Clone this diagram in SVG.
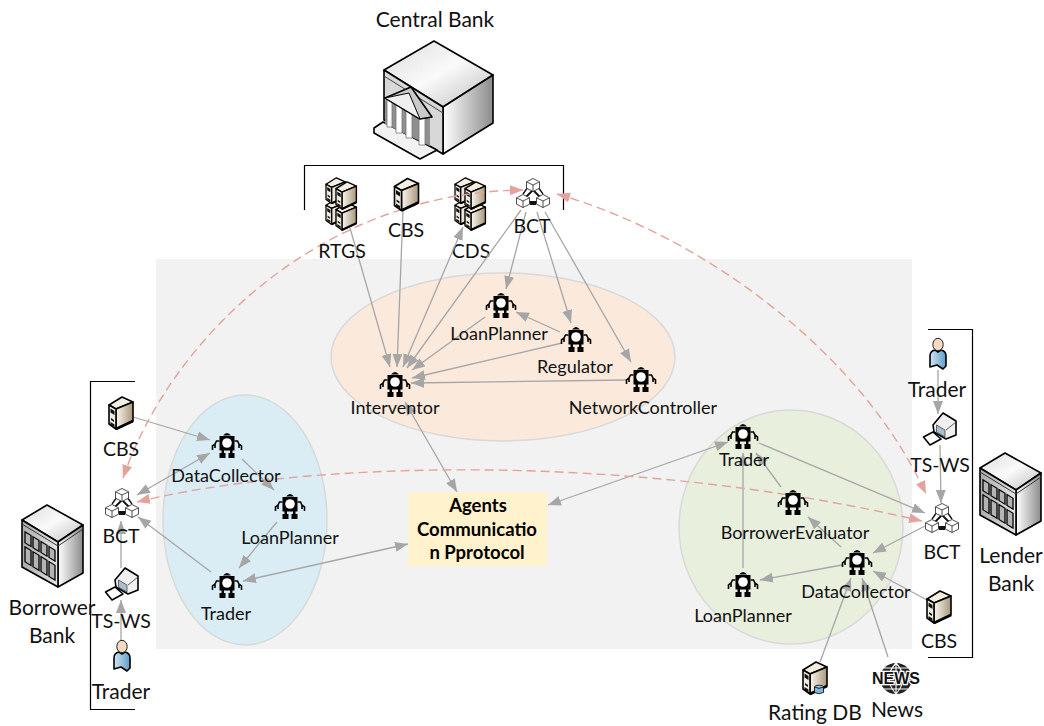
<svg xmlns="http://www.w3.org/2000/svg" width="1044" height="726" viewBox="0 0 1044 726">
<style>
text{font-family:"Lato","Liberation Sans",sans-serif;font-size:18px;fill:#111;text-anchor:middle}
.big{font-size:21px}
.cap{font-size:19.5px}
.bold{font-weight:700;font-size:18.5px;fill:#000}
.news{font-family:"Liberation Sans",Arial,sans-serif;font-weight:700;font-size:16px;fill:#111;stroke:#fff;stroke-width:2.5px;paint-order:stroke}
.c{fill:none;stroke:#a6a6a6;stroke-width:1.3;marker-end:url(#ah)}
.b{marker-start:url(#ah)}
.n{marker-end:none}
.d{fill:none;stroke:#e3a39c;stroke-width:1.4;stroke-dasharray:9 5;marker-start:url(#ap);marker-end:url(#ap)}
.o{stroke:#000;stroke-width:1.6;stroke-linejoin:round}
.t{stroke:#222;stroke-width:.8;fill:#fff;stroke-linejoin:round}
.br{fill:none;stroke:#000;stroke-width:1.2}
</style>
<defs>
<marker id="ah" markerUnits="userSpaceOnUse" markerWidth="14" markerHeight="11" refX="13" refY="5" orient="auto-start-reverse"><path d="M0,0L13,5L0,10Z" fill="#a6a6a6"/></marker>
<marker id="ap" markerUnits="userSpaceOnUse" markerWidth="14" markerHeight="11" refX="13" refY="5" orient="auto-start-reverse"><path d="M0,0L13,5L0,10Z" fill="#e3a39c"/></marker>
<linearGradient id="gb" x1="0" x2="1" y1="0" y2="0"><stop offset="0" stop-color="#fff"/><stop offset="1" stop-color="#8c8c8c"/></linearGradient>
<linearGradient id="gl" x1="0" x2="1" y1="0" y2="0"><stop offset="0" stop-color="#a9a9a9"/><stop offset="1" stop-color="#e6e6e6"/></linearGradient>
<linearGradient id="gt" x1="0" x2="1" y1="0" y2="1"><stop offset="0" stop-color="#dcdcdc"/><stop offset=".5" stop-color="#fafafa"/><stop offset="1" stop-color="#bdbdbd"/></linearGradient>
<linearGradient id="gs" x1="0" x2="1" y1="0" y2="0"><stop offset="0" stop-color="#fbf8f0"/><stop offset="1" stop-color="#a8977a"/></linearGradient>
<linearGradient id="gp" x1="0" x2="1" y1="0" y2="0"><stop offset="0" stop-color="#cfe6f5"/><stop offset="1" stop-color="#5f9cc8"/></linearGradient>
<g id="robot">
<path d="M-4,-9.500Q0,-14.500 4,-9.500Z" fill="#000"/>
<rect x="-7.500" y="-9" width="15" height="14.500" fill="#000"/>
<circle cx="0" cy="-2" r="4.800" fill="#fff"/>
<rect x="-7.500" y="8" width="6" height="5" fill="#000"/><rect x="1.500" y="8" width="6" height="5" fill="#000"/>
<rect x="-5.500" y="5" width="2.500" height="3" fill="#000"/><rect x="3" y="5" width="2.500" height="3" fill="#000"/>
<path d="M-7.500,-4L-10.500,-4L-12,-1L-14.500,1V5M-12,-1V3M7.500,-4L10.500,-4L12,-1L14.500,1V5M12,-1V3" fill="none" stroke="#000" stroke-width="1.600"/>
</g>
<g id="server">
<path class="o" d="M0,9L13,1L24,6L7,13Z" fill="#f4eee0"/>
<path class="o" d="M7,13L24,6V25L7,33Z" fill="url(#gs)"/>
<path class="o" d="M0,9L7,13V33L0,28Z" fill="#f1ece0"/>
<path d="M1.500,12.500L5.500,15V19L1.500,16.500ZM2,22L5,24V26L2,24ZM1.500,26L5.500,28.500V31L1.500,28.500Z" fill="#111"/>
<path d="M7,33L24,25" stroke="#000" stroke-width="2.600"/>
</g>
<g id="rack">
<use href="#server" transform="translate(0,21) scale(.8)"/>
<use href="#server" transform="translate(0,0) scale(.8)"/>
<use href="#server" transform="translate(10,25) scale(.85)"/>
<use href="#server" transform="translate(10,4) scale(.85)"/>
</g>
<g id="cube"><path class="t" d="M0,-6.500L6.500,-3.200V3.200L0,6.500L-6.500,3.200V-3.200Z"/><path class="t" d="M-6.500,-3.200L0,0L6.500,-3.200M0,0V6.500" fill="none"/></g>
<g id="bct">
<path d="M17,12L10,19M17,12L24,19M13,24H21M14,26H20" stroke="#111" stroke-width="1.800" fill="none"/>
<path d="M12,9L7,16M22,9L27,16" stroke="#111" stroke-width="1.300"/>
<use href="#cube" x="17" y="7"/><use href="#cube" x="7" y="23"/><use href="#cube" x="27" y="23"/>
</g>
<g id="person">
<path class="o" d="M1,29V18Q1,13 6,12L9,14L12,12Q17,13 17,18V28L14,31L8,27Z" fill="url(#gp)" stroke-width="1.100"/>
<ellipse cx="9" cy="6.500" rx="5.200" ry="6.200" fill="#f6d9c4" stroke="#222" stroke-width="1"/>
</g>
<g id="ws">
<path class="o" d="M10,12L20,0L33,8V22L23,26L11,19Z" fill="#f0f0f0" stroke-width="1.900"/>
<path d="M13.500,12L22,17V24L13.500,19Z" fill="#a9bfcc" stroke="#333" stroke-width=".7"/>
<path d="M23,17L33,9" stroke="#333" stroke-width=".8"/>
<path class="o" d="M0.500,24L10,19L18,26L7,32Z" fill="#fff" stroke-width="1.900"/>
</g>
<g id="office">
<path class="o" d="M25,0L61,20L36,37L0,15Z" fill="url(#gt)"/>
<path class="o" d="M36,37L61,20V68L36,82Z" fill="url(#gb)"/>
<path class="o" d="M0,15L36,37V82L0,62Z" fill="url(#gl)"/>
<path d="M0,19L36,41M36,41L61,24" stroke="#333" stroke-width="1" fill="none"/>
<g transform="matrix(1,.61,0,1,0,15)" fill="#b4b4b4" stroke="#000" stroke-width="1.300">
<rect x="3" y="10" width="6" height="11"/><rect x="11" y="10" width="6" height="11"/><rect x="19" y="10" width="6" height="11"/><rect x="27" y="10" width="6" height="11"/>
<rect x="3" y="25" width="6" height="15"/><rect x="11" y="25" width="6" height="15"/><rect x="19" y="25" width="6" height="15"/><rect x="27" y="25" width="6" height="15"/>
</g>
</g>
</defs>

<g id="regions">
<rect x="156" y="259" width="756" height="390" fill="#f2f2f2"/>
<ellipse cx="503" cy="357" rx="172" ry="84" fill="#fbe9dc" stroke="#d9d9d9" stroke-width="1.500"/>
<ellipse cx="245" cy="520" rx="82" ry="125" fill="#daedf4" stroke="#d9d9d9" stroke-width="1.500"/>
<ellipse cx="791" cy="527" rx="112" ry="117" fill="#e8efdd" stroke="#d9d9d9" stroke-width="1.500"/>
<path class="br" d="M304.500,210V165.500H563.500V210"/>
<path class="br" d="M135,381.500H90.500V709.500H135"/>
<path class="br" d="M928,329.500H972.500V657.500H928"/>
</g>

<g id="node-central-cds"><use href="#rack" x="455" y="177"/><text x="471" y="258" class="cap">CDS</text></g>

<g id="connectors">
<path class="c" d="M350,228L390,367"/>
<path class="c" d="M403,210L397,367"/>
<path class="c b" d="M463,227L403,367"/>
<path class="c n b" d="M407,368L521,210"/>
<path class="c" d="M526,212L506,289"/>
<path class="c" d="M537,212L571,323"/>
<path class="c" d="M545,212L631,362"/>
<path class="c" d="M560,332L516,312"/>
<path class="c" d="M485,317L412,370"/>
<path class="c" d="M562,343L412,378"/>
<path class="c" d="M627,380L411,383"/>
<path class="c b" d="M405,402L457,492"/>
<path class="c b" d="M548,505L728,442"/>
<path class="c b" d="M408,544L243,581"/>
<path class="c" d="M133,417L210,440"/>
<path class="c b" d="M210,453L137,495"/>
<path class="c" d="M242,459L274,490"/>
<path class="c" d="M277,522L239,568"/>
<path class="c" d="M211,572L138,517"/>
<path class="c" d="M121,568V521"/>
<path class="c" d="M121,640V600"/>
<path class="c" d="M938,370V414"/>
<path class="c" d="M940,445L941,503"/>
<path class="c" d="M759,443L925,513"/>
<path class="c" d="M925,526L873,553"/>
<path class="c" d="M781,487L756,453"/>
<path class="c" d="M841,547L808,517"/>
<path class="c" d="M842,565L760,580"/>
<path class="c" d="M743,568V453"/>
<path class="c" d="M927,600L873,571"/>
<path class="c" d="M820,662L851,578"/>
<path class="c" d="M888,657L862,578"/>
<path class="d" d="M123,478C170,340 320,192 523,190"/>
<path class="d" d="M557,194C700,235 860,350 926,494"/>
<path class="d" d="M137,502C300,462 620,450 922,521"/>
</g>

<g id="node-central-bank">
<text x="435" y="27" class="big">Central Bank</text>
<path class="o" d="M434,41L493,75L443,107L384,70Z" fill="url(#gt)"/>
<path class="o" d="M443,107L493,75V123L443,154Z" fill="url(#gb)"/>
<path class="o" d="M384,70L443,107V154L384,120Z" fill="#d8d8d8"/>
<path d="M384,76L443,113" stroke="#444" stroke-width="1"/>
<path class="o" d="M374,128L383,122L437,150L420,159L374,133Z" fill="#f2f2f2" stroke-width="1.300"/>
<path d="M385,100L430,118V146L385,124Z" fill="#8f8f8f"/>
<g fill="#fff" stroke="#777" stroke-width=".8">
<path d="M387,100H392V127H387Z"/><path d="M396,103H402V133H396Z"/><path d="M406,108H412V138H406Z"/><path d="M419,114H425V145H419Z"/>
</g>
<path class="o" d="M385,98L411,87L432,117L420,119Z" fill="#c9c9c9" stroke-width="1.200"/>
<path d="M385,98L409,93L420,119Z" fill="#efefef" stroke="#000" stroke-width="1"/>
</g>
<g id="node-central-rtgs"><use href="#rack" x="326" y="177"/><text x="342" y="258" class="cap">RTGS</text></g>
<g id="node-central-cbs"><use href="#server" x="394.500" y="177.500"/><text x="406" y="237" class="cap">CBS</text></g>
<g id="node-central-bct"><use href="#bct" x="516" y="178"/><text x="532" y="233" class="cap">BCT</text></g>

<g id="node-interventor"><use href="#robot" x="395" y="384"/><text x="395" y="414">Interventor</text></g>
<g id="node-c-loanplanner"><use href="#robot" x="501" y="305"/><text x="499" y="340">LoanPlanner</text></g>
<g id="node-regulator"><use href="#robot" x="576" y="339"/><text x="575" y="373">Regulator</text></g>
<g id="node-networkcontroller"><use href="#robot" x="641" y="379"/><text x="643" y="414">NetworkController</text></g>

<g id="node-b-datacollector"><use href="#robot" x="227" y="445"/><text x="226" y="482">DataCollector</text></g>
<g id="node-b-loanplanner"><use href="#robot" x="290" y="506"/><text x="290" y="544">LoanPlanner</text></g>
<g id="node-b-trader-agent"><use href="#robot" x="227" y="585"/><text x="226" y="620">Trader</text></g>

<g id="node-l-trader-agent"><use href="#robot" x="743" y="436"/><text x="744" y="466">Trader</text></g>
<g id="node-borrowerevaluator"><use href="#robot" x="793" y="502"/><text x="795" y="539">BorrowerEvaluator</text></g>
<g id="node-l-datacollector"><use href="#robot" x="857" y="562"/><text x="856" y="598">DataCollector</text></g>
<g id="node-l-loanplanner"><use href="#robot" x="743" y="584"/><text x="743" y="622">LoanPlanner</text></g>

<g id="node-protocol">
<rect x="408" y="492" width="139" height="74" fill="#fff2cc"/>
<text x="478" y="512" class="bold">Agents</text>
<text x="477" y="536" class="bold">Communicatio</text>
<text x="477" y="559" class="bold">n Pprotocol</text>
</g>

<g id="node-borrower-bank"><use href="#office" x="22" y="505"/><text x="52" y="615" class="big">Borrower</text><text x="52" y="643" class="big">Bank</text></g>
<g id="node-b-cbs"><use href="#server" x="109" y="396"/><text x="121" y="456" class="cap">CBS</text></g>
<g id="node-b-bct"><use href="#bct" x="105" y="488"/><text x="121" y="543" class="cap">BCT</text></g>
<g id="node-b-ws"><use href="#ws" x="105" y="568"/><text x="121" y="628" class="cap">TS-WS</text></g>
<g id="node-b-trader"><use href="#person" x="113" y="640"/><text x="121" y="699" class="big">Trader</text></g>

<g id="node-lender-bank"><use href="#office" x="980" y="453"/><text x="1011" y="563" class="big">Lender</text><text x="1011" y="591" class="big">Bank</text></g>
<g id="node-l-trader"><use href="#person" x="929" y="338"/><text x="937" y="397" class="big">Trader</text></g>
<g id="node-l-ws"><use href="#ws" x="923" y="413"/><text x="940" y="472" class="cap">TS-WS</text></g>
<g id="node-l-bct"><use href="#bct" x="925" y="503"/><text x="942" y="559" class="cap">BCT</text></g>
<g id="node-l-cbs"><use href="#server" x="927" y="590"/><text x="939" y="648" class="cap">CBS</text></g>

<g id="node-rating-db">
<use href="#server" x="803" y="661"/>
<ellipse cx="819" cy="687" rx="4.500" ry="1.800" fill="#9cc9e6" stroke="#000" stroke-width=".8"/>
<path d="M814.500,687V692.500Q819,695 823.500,692.500V687Q819,689.500 814.500,687Z" fill="#7fb6dc" stroke="#000" stroke-width=".8"/>
<text x="815" y="720" class="big">Rating DB</text>
</g>
<g id="node-news">
<ellipse cx="896" cy="678.500" rx="16" ry="15.500" fill="#222"/>
<path d="M880,678.500H912M896,663V694M896,663Q882,678 896,694M896,663Q910,678 896,694M884,668H908M884,689H908" fill="none" stroke="#fff" stroke-width="1.100"/>
<text x="896" y="684" class="news">NEWS</text>
<text x="897" y="717" class="big">News</text>
</g>
</svg>
